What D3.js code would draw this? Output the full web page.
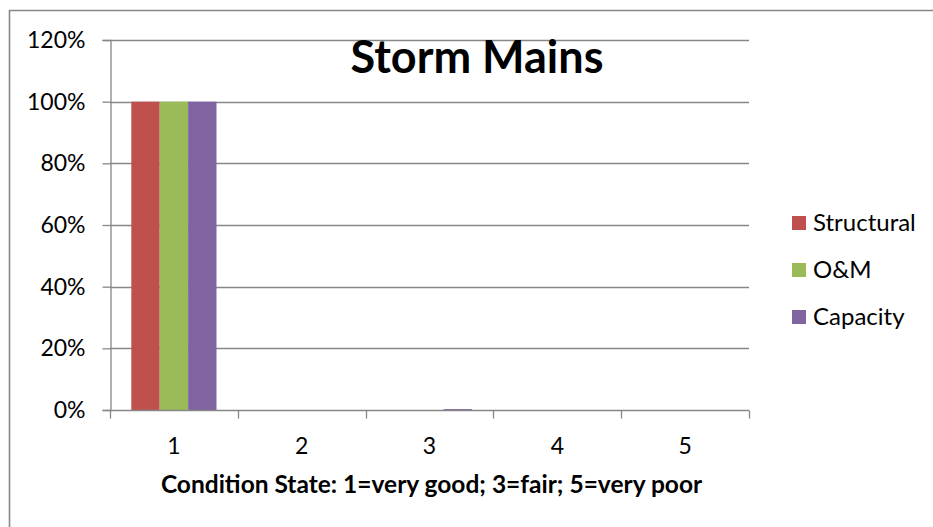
<!DOCTYPE html>
<html>
<head>
<meta charset="utf-8">
<script src="https://cdn.jsdelivr.net/npm/d3@7"></script>
<style>
  html, body { margin: 0; padding: 0; background: #fff; overflow: hidden; }
  svg { display: block; }
  text { font-family: Lato, "Open Sans", sans-serif; fill: #000; }
</style>
</head>
<body>
<svg id="chart" width="933" height="527"></svg>
<script>
// Condition state categories (1 = very good ... 5 = very poor)
const categories = ["1", "2", "3", "4", "5"];
const seriesNames = ["Structural", "O&M", "Capacity"];
// Share of storm mains per condition state, in percent
const structural = [100, 0, 0, 0, 0];
const oAndM      = [100, 0, 0, 0, 0];
const capacity   = [100, 0, 0.3, 0, 0];
const yTicks = [0, 20, 40, 60, 80, 100, 120];
const colors = ["#C0504D", "#9BBB59", "#8064A2"];

const seriesValues = [structural, oAndM, capacity];
const rows = categories.map((c, i) => ({
  category: c,
  values: seriesNames.map((s, k) => ({ series: s, value: seriesValues[k][i], color: colors[k] }))
}));

const svg = d3.select("#chart");
const grey = "#878787";

// Outer chart frame (top and left edges fall inside the view)
svg.append("path")
  .attr("d", "M9.5,560 V10.5 H980")
  .attr("fill", "none").attr("stroke", grey).attr("stroke-width", 1.6);

const plot = { left: 110, right: 749, top: 40, bottom: 410 };

const x0 = d3.scaleBand().domain(categories).range([plot.left, plot.right]).padding(0);
const x1 = d3.scaleBand().domain(seriesNames).range([0, x0.bandwidth()])
  .paddingInner(0).paddingOuter(0.75);
const y = d3.scaleLinear().domain([0, 120]).range([plot.bottom, plot.top]);

// Horizontal gridlines
svg.append("g").selectAll("line").data(yTicks.filter(t => t > 0)).join("line")
  .attr("x1", plot.left).attr("x2", plot.right)
  .attr("y1", d => Math.round(y(d)) + 0.5).attr("y2", d => Math.round(y(d)) + 0.5)
  .attr("stroke", grey).attr("stroke-width", 1.3);

// Bars
svg.append("g").selectAll("g").data(rows).join("g")
  .attr("transform", d => `translate(${x0(d.category)},0)`)
  .selectAll("rect").data(d => d.values).join("rect")
  .attr("x", d => x1(d.series))
  .attr("width", x1.bandwidth())
  .attr("y", d => y(d.value))
  .attr("height", d => y(0) - y(d.value))
  .attr("fill", d => d.color);

// Y axis
const yAxis = d3.axisLeft(y).tickValues(yTicks).tickFormat(d => d + "%").tickSize(8).tickPadding(17);
const gy = svg.append("g").attr("transform", `translate(${plot.left + 0.5},0)`).call(yAxis);
gy.select(".domain").attr("stroke", grey).attr("stroke-width", 1.3);
gy.selectAll(".tick line").attr("stroke", grey).attr("stroke-width", 1.3);
gy.selectAll(".tick text").style("font-size", "23px").style("font-family", "Lato, sans-serif").attr("fill", "#000");

// X axis: ticks sit on category boundaries, labels centred in each band
const gx = svg.append("g").attr("transform", `translate(0,${plot.bottom + 0.5})`);
gx.append("line").attr("x1", plot.left).attr("x2", plot.right)
  .attr("stroke", grey).attr("stroke-width", 1.3);
const bounds = categories.map(c => x0(c)).concat([plot.right]);
gx.selectAll("line.tk").data(bounds).join("line").attr("class", "tk")
  .attr("x1", d => Math.round(d) + 0.5).attr("x2", d => Math.round(d) + 0.5)
  .attr("y1", 0).attr("y2", 8)
  .attr("stroke", grey).attr("stroke-width", 1.3);
gx.selectAll("text").data(categories).join("text")
  .attr("x", d => x0(d) + x0.bandwidth() / 2)
  .attr("y", 43)
  .attr("text-anchor", "middle")
  .style("font-size", "23px")
  .text(d => d);

// Axis title
svg.append("text")
  .attr("x", (plot.left + plot.right) / 2 + 2).attr("y", 493)
  .attr("text-anchor", "middle")
  .style("font-size", "24.5px").style("font-weight", "bold")
  .text("Condition State: 1=very good; 3=fair; 5=very poor");

// Chart title
svg.append("text")
  .attr("x", 477).attr("y", 73)
  .attr("text-anchor", "middle")
  .style("font-size", "45px").style("font-weight", "bold")
  .text("Storm Mains");

// Legend
const legend = svg.append("g").attr("transform", "translate(792,216)");
const li = legend.selectAll("g").data(seriesNames).join("g")
  .attr("transform", (d, i) => `translate(0,${i * 47})`);
li.append("rect").attr("width", 14).attr("height", 14).attr("fill", (d, i) => colors[i]);
li.append("text").attr("x", 21).attr("y", 7).attr("dy", "0.35em")
  .style("font-size", "24px").text(d => d);
</script>
</body>
</html>
